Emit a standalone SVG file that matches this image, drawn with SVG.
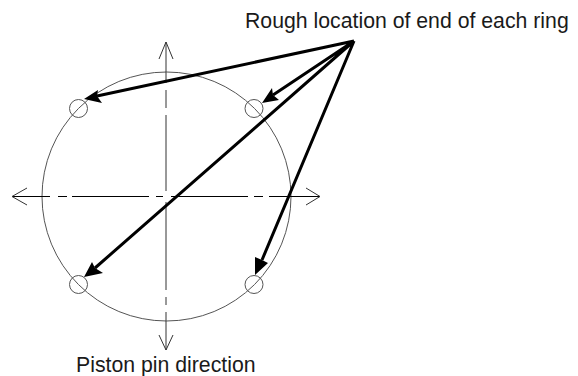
<svg xmlns="http://www.w3.org/2000/svg" width="578" height="376" viewBox="0 0 578 376">
<defs><style>
.t{font-family:"Liberation Sans",Arial,sans-serif;font-size:21.25px;fill:#1a1a1a}
.c{fill:none;stroke:#555;stroke-width:1}
.a{fill:none;stroke:#000;stroke-width:1}
.v{fill:none;stroke:#333;stroke-width:1}
.p{fill:none;stroke:#000;stroke-width:3}
.h{fill:#000;stroke:none}
</style></defs>
<rect width="578" height="376" fill="#fff"/>
<g id="main-circle"><circle class="c" cx="166.500" cy="196.500" r="124.500"/></g>
<g id="ring-tl"><circle class="c" cx="78.500" cy="108.500" r="9"/></g>
<g id="ring-tr"><circle class="c" cx="254" cy="108.500" r="9"/></g>
<g id="ring-bl"><circle class="c" cx="78.500" cy="284.500" r="9"/></g>
<g id="ring-br"><circle class="c" cx="254" cy="284.500" r="9"/></g>
<g id="axes">
<path class="a" d="M12 196.500H50M58 196.500H67M72 196.500H149M156 196.500H163M171 196.500H248M254 196.500H263M269 196.500H320"/>
<path class="v" d="M27 188L12 196.500L27 205M306 188L320 196.500L306 205"/>
<path class="v" d="M166 42V83M166 90V108M166 115V191M166 202V290M166 297V305M166 312V350M159 59L166 42L173 59M159 335L166 350L173 335"/>
</g>
<g id="connectors">
<path class="p" d="M354 41L97 96M354 41L273 95M354 41L95 268M354 41L262 260"/>
<path class="h" d="M84 99L98 90L97 96L102 103ZM262 103L272 88L273 95L279 100ZM84 277L92 262L95 268L103 273ZM255 275L255 257L262 260L268 263Z"/>
</g>
<g id="label-top"><text class="t" x="245" y="28">Rough location of end of each ring</text></g>
<g id="label-bottom"><text class="t" x="76" y="372">Piston pin direction</text></g>
</svg>
